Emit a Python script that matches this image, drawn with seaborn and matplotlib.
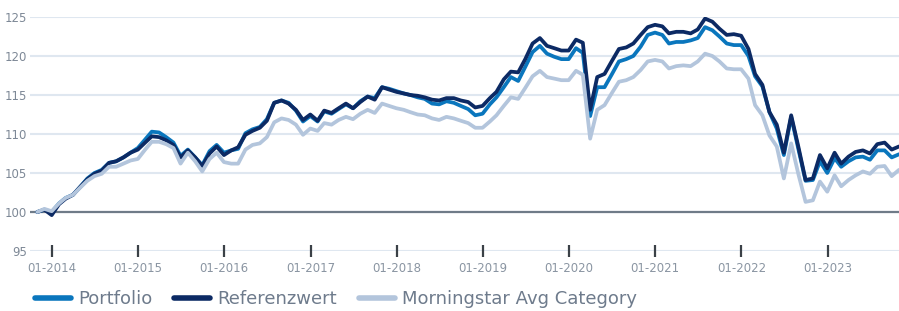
import numpy as np
import pandas as pd
import matplotlib
matplotlib.use("Agg")
import matplotlib.pyplot as plt
import matplotlib.dates as mdates
import seaborn as sns

# Month-end index values, Oct 2013 .. Oct 2023 (start = 100)
dates = pd.date_range("2013-10-31", "2023-10-31", freq="ME")

portfolio = [
    100.0, 100.3, 100.0, 101.1, 101.8, 102.2, 103.2, 104.3, 105.0, 105.4,
    106.3, 106.5, 107.0, 107.6, 108.2, 109.3, 110.3, 110.2, 109.6, 108.9,
    107.2, 108.0, 107.0, 106.0, 107.8, 108.6, 107.6, 107.9, 108.1, 110.1,
    110.6, 110.9, 111.9, 114.0, 114.3, 114.0, 113.0, 111.6, 112.3, 111.6,
    112.9, 112.6, 113.2, 113.8, 113.3, 114.2, 114.8, 114.6, 116.0, 115.8,
    115.5, 115.2, 115.0, 114.7, 114.5, 113.9, 113.8, 114.2, 114.0, 113.6,
    113.2, 112.4, 112.6, 113.8, 114.7, 116.0, 117.3, 116.8, 118.6, 120.5,
    121.3, 120.3, 119.9, 119.6, 119.6, 121.0, 120.4, 112.3, 116.0, 116.0,
    117.6, 119.3, 119.6, 120.0, 121.2, 122.7, 123.0, 122.7, 121.6, 121.8,
    121.8, 122.0, 122.3, 123.7, 123.3, 122.5, 121.6, 121.4, 121.4, 120.0,
    117.4, 116.1, 112.8, 110.7, 107.3, 112.2, 108.0, 104.0, 104.1, 106.5,
    105.0, 106.9, 105.8, 106.5, 107.0, 107.1, 106.7, 107.9, 107.9, 107.0,
    107.4,
]

referenzwert = [
    100.0, 100.3, 99.6, 101.0, 101.7, 102.2, 103.2, 104.2, 104.9, 105.3,
    106.3, 106.5, 107.0, 107.6, 108.0, 108.9, 109.7, 109.6, 109.2, 108.6,
    107.0, 107.9, 107.0, 105.9, 107.5, 108.4, 107.3, 107.9, 108.3, 109.9,
    110.4, 110.8, 111.7, 114.0, 114.3, 113.9, 113.1, 111.8, 112.5, 111.7,
    113.0, 112.7, 113.3, 113.9, 113.3, 114.1, 114.8, 114.4, 116.0, 115.7,
    115.4, 115.2, 115.0, 114.9, 114.7, 114.4, 114.3, 114.6, 114.6, 114.3,
    114.1, 113.4, 113.6, 114.6, 115.4, 117.0, 118.0, 117.9, 119.6, 121.6,
    122.3, 121.3, 121.0, 120.7, 120.7, 122.1, 121.7, 113.1, 117.3, 117.7,
    119.3, 120.9, 121.1, 121.6, 122.7, 123.7, 124.0, 123.8, 122.9, 123.1,
    123.1, 122.9, 123.4, 124.8, 124.4, 123.5, 122.7, 122.8, 122.6, 120.9,
    117.7, 116.3, 112.8, 111.2, 107.6, 112.4, 108.3, 104.1, 104.3, 107.3,
    105.6, 107.6, 106.2, 107.1, 107.7, 107.9, 107.5, 108.7, 108.9, 108.0,
    108.4,
]

morningstar = [
    100.0, 100.4, 100.1, 101.1, 101.8, 102.2, 103.1, 104.0, 104.6, 104.9,
    105.8, 105.8, 106.2, 106.6, 106.8, 108.0, 109.0, 109.0, 108.7, 108.2,
    106.2, 107.6, 106.5, 105.2, 106.8, 107.6, 106.4, 106.2, 106.2, 108.0,
    108.6, 108.8, 109.6, 111.5, 112.0, 111.8, 111.2, 109.9, 110.7, 110.4,
    111.4, 111.2, 111.8, 112.2, 111.9, 112.6, 113.1, 112.7, 113.9, 113.6,
    113.3, 113.1, 112.8, 112.5, 112.4, 112.0, 111.8, 112.2, 112.0, 111.7,
    111.4, 110.8, 110.8, 111.6, 112.4, 113.6, 114.7, 114.5, 115.9, 117.4,
    118.1, 117.3, 117.1, 116.9, 116.9, 118.1, 117.6, 109.4, 113.1, 113.7,
    115.2, 116.7, 116.9, 117.3, 118.2, 119.3, 119.5, 119.3, 118.4, 118.7,
    118.8, 118.7, 119.3, 120.3, 120.0, 119.3, 118.4, 118.3, 118.3, 117.1,
    113.7, 112.4, 109.8, 108.4, 104.3, 108.8, 104.8, 101.3, 101.5, 103.9,
    102.6, 104.7, 103.3, 104.1, 104.7, 105.2, 104.9, 105.8, 105.9, 104.6,
    105.4,
]

series = ["Portfolio", "Referenzwert", "Morningstar Avg Category"]
colors = ["#0a76bd", "#0c2a64", "#b3c5dc"]

df = pd.DataFrame({"date": dates, series[0]: portfolio,
                   series[1]: referenzwert, series[2]: morningstar})
df_long = df.melt(id_vars="date", var_name="series", value_name="value")

sns.set_theme(style="white")
plt.rcParams["font.family"] = ["DejaVu Sans"]

fig = plt.figure(figsize=(8.99, 3.11), dpi=100)
ax = fig.add_axes([30 / 899, 1 - 251 / 311, 869 / 899, 234 / 311])

for y in range(95, 130, 5):
    ax.axhline(y, color="#dfe7f0", lw=1.5, zorder=0)
ax.axhline(100, color="#6f7b88", lw=1.6, zorder=1)

sns.lineplot(data=df_long, x="date", y="value", hue="series",
             hue_order=series, palette=colors, linewidth=2.7,
             legend=False, ax=ax, zorder=3)

ax.set_xlim(pd.Timestamp("2013-09-30"), pd.Timestamp("2023-10-31"))
ax.set_ylim(95, 125)
ax.set_yticks(range(95, 130, 5))
ax.set_xlabel("")
ax.set_ylabel("")
for s in ax.spines.values():
    s.set_visible(False)

ax.xaxis.set_major_locator(mdates.YearLocator(1, month=1, day=1))
ax.xaxis.set_major_formatter(mdates.DateFormatter("%m-%Y"))
ax.tick_params(axis="x", bottom=True, direction="inout", length=9, width=1.6,
               color="#3b4147", labelsize=8.5, labelcolor="#8a95a2", pad=3.5)
ax.tick_params(axis="y", left=False, length=0, labelsize=8.5,
               labelcolor="#7d8896", pad=2)

handles = [plt.Line2D([], [], color=c, lw=4) for c in colors]
fig.legend(handles, series, loc="center left",
           bbox_to_anchor=(35 / 899, 1 - 299 / 311), ncol=3, frameon=False,
           fontsize=13, labelcolor="#6e7b8c", handlelength=2.0,
           handletextpad=0.4, columnspacing=1.2, borderpad=0, borderaxespad=0)

fig.savefig("out.png", dpi=100)
